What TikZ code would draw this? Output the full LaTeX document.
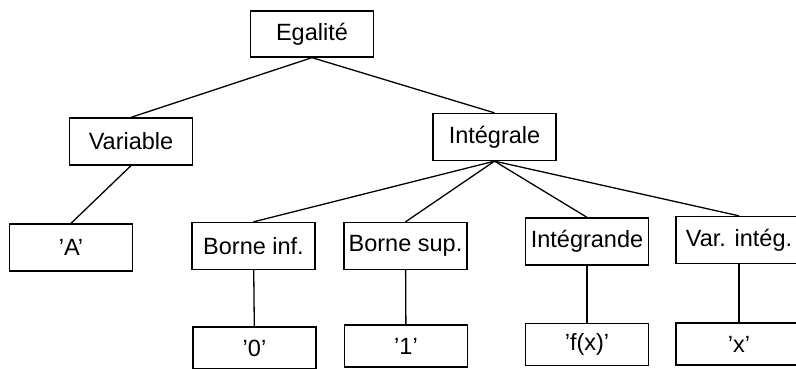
\documentclass[tikz,border=0pt]{standalone}
\usepackage{fontspec}
\setmainfont{Liberation Sans}
\usetikzlibrary{positioning}

\tikzset{box/.style={draw,line width=1.3pt,minimum width=123pt,minimum height=47pt,inner sep=0pt,font=\fontsize{23.5}{27}\selectfont}}

\begin{document}
\begin{tikzpicture}[x=1pt,y=-1pt,line width=1.3pt]
                      \clip (0,0) rectangle (796,369);
                      \node[box,minimum height=46pt](eg)at(312,34){Egalité};
                      \node[box](var)at(131,141.5){Variable};
                      \node[box](integ)at(494.5,137){Intégrale};
                      \node[box](lit)at(71,247.5){'A'};
                      \node[box](binf)at(253.5,246){Borne inf.};
                      \node[box](bsup)at(405.5,246){Borne sup.};
                      \node[box](igd)at(587,241.5){Intégrande};
                      \node[box,minimum width=126pt](vint)at(739,240){Var. intég.};
                      \node[box,minimum height=42pt](zero)at(254.5,348){'0'};
                      \node[box,minimum height=42pt](one)at(406,346){'1'};
                      \node[box,minimum height=42pt](fx)at(587,344.5){'f(x)'};
                      \node[box,minimum width=126pt,minimum height=42pt](x)at(739,344){'x'};
                      \draw (eg.south)--(var.north);
                      \draw (eg.south)--(integ.north);
                      \draw (var.south)--(lit.north);
                      \draw (integ.south)--(binf.north);
                      \draw (integ.south)--(bsup.north);
                      \draw (integ.south)--(igd.north);
                      \draw (integ.south)--(vint.north);
                      \draw (binf)--(zero);
                      \draw (bsup)--(one);
                      \draw (igd)--(fx);
                      \draw (vint)--(x);
                  \end{tikzpicture}
\end{document}
